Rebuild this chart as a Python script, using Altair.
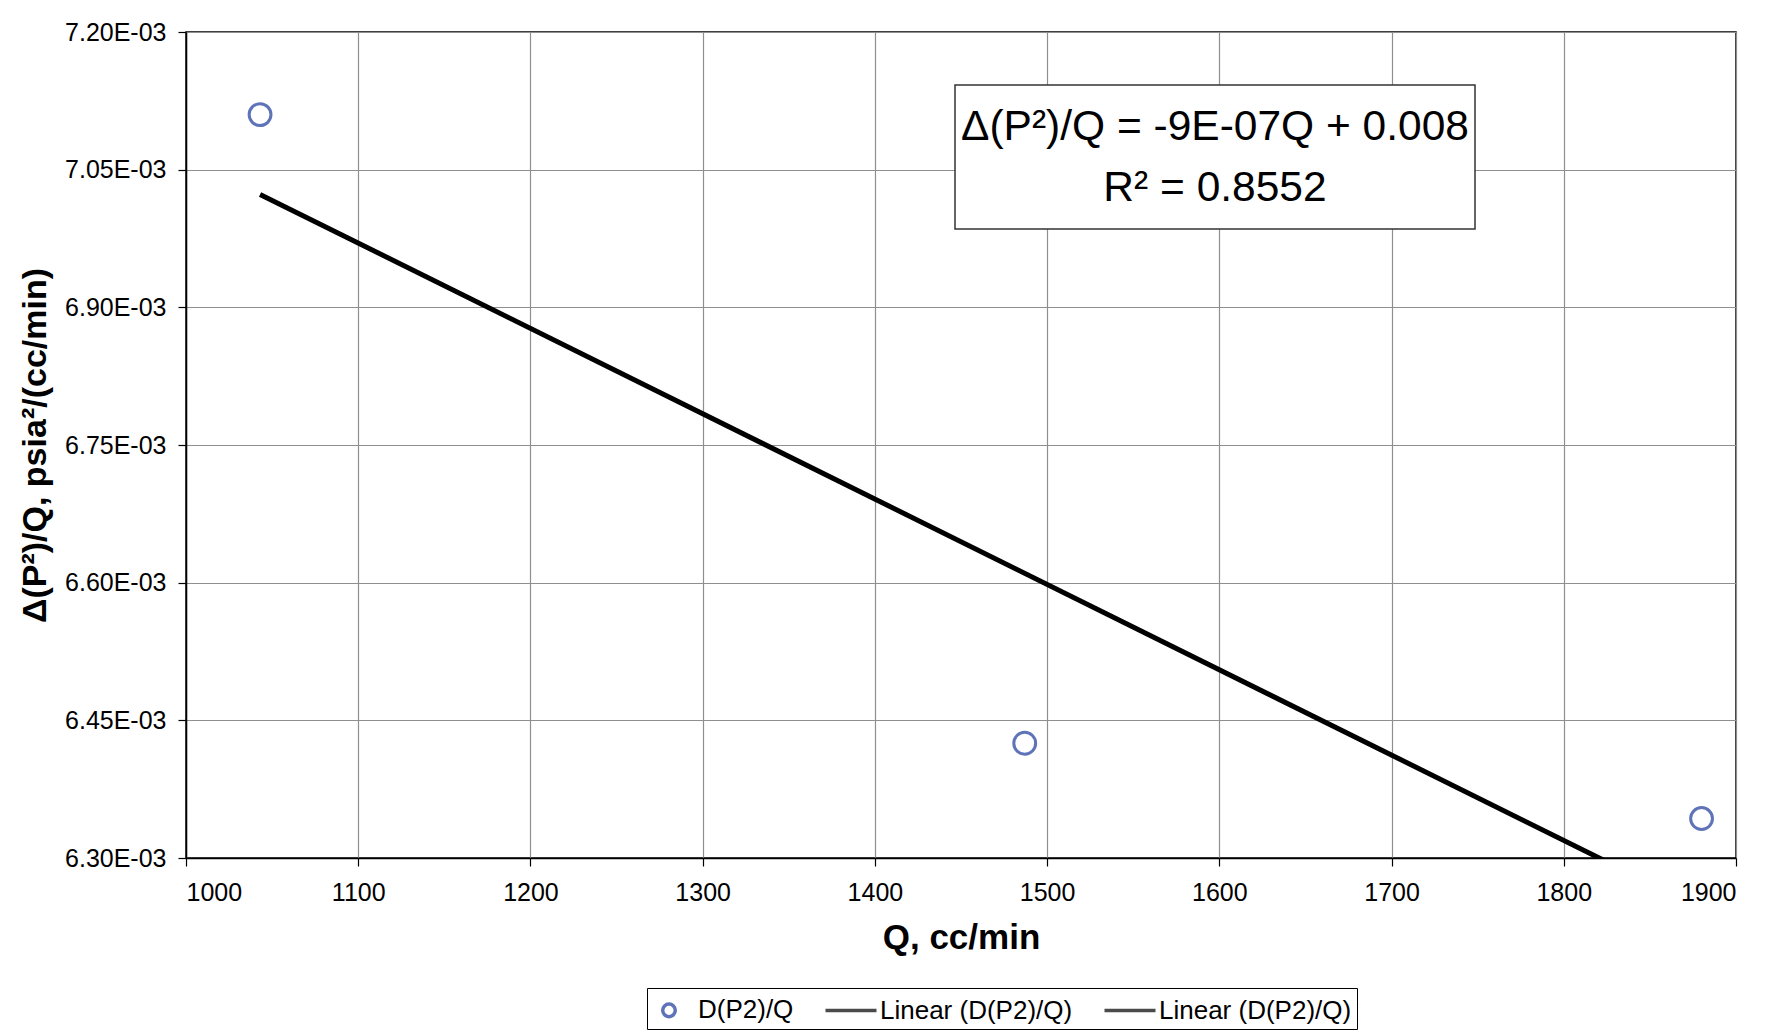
import altair as alt
import pandas as pd

# ---- data ----
q_values = [1043, 1487, 1880]
dpq_values = [0.00711, 0.006425, 0.006343]
series_names = ["D(P2)/Q", "Linear (D(P2)/Q)", "Linear (D(P2)/Q) "]
x_ticks = [1000, 1100, 1200, 1300, 1400, 1500, 1600, 1700, 1800, 1900]
y_ticks = [0.0063, 0.00645, 0.0066, 0.00675, 0.0069, 0.00705, 0.0072]
eq_line1 = "Δ(P²)/Q = -9E-07Q + 0.008"
eq_line2 = "R² = 0.8552"

FONT = "Liberation Sans"
W, H = 1550, 826

df = pd.DataFrame({"Q": q_values, "dPQ": dpq_values, "series": series_names[0]})

small_circle = "M0.42,0A0.42,0.42,0,1,1,-0.42,0A0.42,0.42,0,1,1,0.42,0Z"
stroke_path = "M-1.7,0H1.7"

x_enc = alt.X("Q:Q", title="Q, cc/min",
              scale=alt.Scale(domain=[1000, 1900], nice=False, zero=False),
              axis=alt.Axis(values=x_ticks, format="d", tickSize=8, labelPadding=14,
                            labelFontSize=25, titleFontSize=35, titlePadding=15))
y_enc = alt.Y("dPQ:Q", title="Δ(P²)/Q, psia²/(cc/min)",
              scale=alt.Scale(domain=[0.0063, 0.0072], nice=False, zero=False),
              axis=alt.Axis(values=y_ticks, tickSize=8, labelPadding=12, titlePadding=12,
                            labelFontSize=25, titleFontSize=34,
                            labelExpr="replace(upper(format(datum.value, '.2e')), 'E-3', 'E-03')"))

base = alt.Chart(df)

leg = alt.Legend(title=None, orient="none", direction="horizontal",
                 legendX=461, legendY=956, labelExpr="trim(datum.label)", labelLimit=0)

points = base.mark_point(filled=False, size=2700, strokeWidth=3, clip=True).encode(
    x=x_enc,
    y=y_enc,
    color=alt.Color("series:N",
                    scale=alt.Scale(domain=series_names, range=["#1c389c", "black", "black"]),
                    legend=leg),
    shape=alt.Shape("series:N",
                    scale=alt.Scale(domain=series_names, range=[small_circle, stroke_path, stroke_path]),
                    legend=leg),
)

trend = base.transform_regression("Q", "dPQ").mark_line(
    color="black", strokeWidth=5, clip=True
).encode(x="Q:Q", y="dPQ:Q")

ann = pd.DataFrame({"a": [0]})
box = alt.Chart(ann).mark_rect(fill="white", stroke="#333", strokeWidth=1.5).encode(
    x=alt.value(769), x2=alt.value(1289), y=alt.value(53), y2=alt.value(197))
t1 = alt.Chart(ann).mark_text(font=FONT, fontSize=42.5, color="black", align="center",
                              baseline="middle").encode(
    x=alt.value(1029), y=alt.value(95), text=alt.value(eq_line1))
t2 = alt.Chart(ann).mark_text(font=FONT, fontSize=42.5, color="black", align="center",
                              baseline="middle").encode(
    x=alt.value(1029), y=alt.value(156), text=alt.value(eq_line2))

chart = alt.layer(trend, points, box, t1, t2).properties(
    width=W, height=H,
    padding={"left": 10, "top": 12, "right": 20, "bottom": 0},
).configure_view(
    stroke="black", strokeWidth=1.5
).configure_axis(
    labelFont=FONT, titleFont=FONT,
    titleFontWeight="bold", labelColor="black", titleColor="black",
    domainColor="black", domainWidth=1.5, tickColor="black", tickWidth=1.2,
    gridColor="#8f8f8f", gridWidth=1.2,
).configure_legend(
    labelFont=FONT, labelFontSize=26, labelColor="black", labelLimit=0,
    strokeColor="black", padding=5, symbolSize=900, symbolStrokeWidth=3.5,
    columnPadding=24, labelOffset=12, fillColor="white",
)

chart.save("out.html", embed_options={"renderer": "svg", "actions": False})
